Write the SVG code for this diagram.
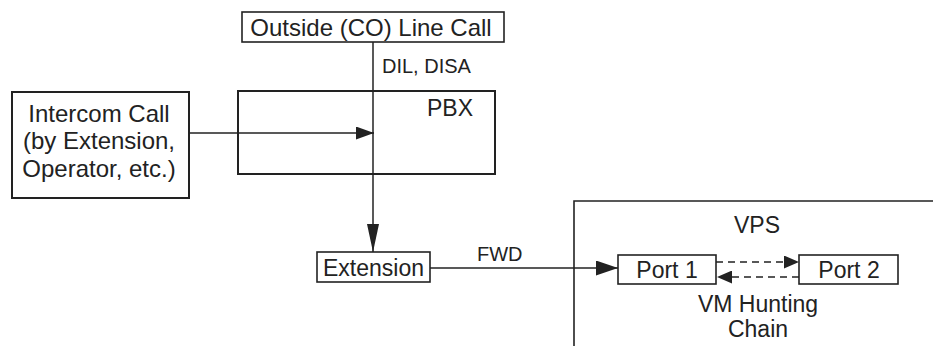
<svg xmlns="http://www.w3.org/2000/svg" width="933" height="346" viewBox="0 0 933 346">
<style>
.box{fill:none;stroke:#222;stroke-width:1.6}
.thick{stroke-width:2}
.t{font-family:"Liberation Sans",Arial,sans-serif;font-size:23px;fill:#222}
.l{font-size:24px}
.s{font-size:20px}
.m{text-anchor:middle}
.c{fill:none;stroke:#222;stroke-width:1.5}
.d{stroke-dasharray:7 5}
</style>
<defs>
<marker id="aL" markerUnits="userSpaceOnUse" markerWidth="28" markerHeight="12" refX="28" refY="6" orient="auto"><path d="M0,0 L28,6 L0,12 z" fill="#222"/></marker>
<marker id="aM" markerUnits="userSpaceOnUse" markerWidth="22" markerHeight="15" refX="22" refY="7.5" orient="auto"><path d="M0,0 L22,7.5 L0,15 z" fill="#222"/></marker>
<marker id="aS" markerUnits="userSpaceOnUse" markerWidth="18" markerHeight="13" refX="18" refY="6.5" orient="auto"><path d="M0,0 L18,6.5 L0,13 z" fill="#222"/></marker>
<marker id="aD" markerUnits="userSpaceOnUse" markerWidth="15" markerHeight="13" refX="15" refY="6.5" orient="auto"><path d="M0,0 L15,6.5 L0,13 z" fill="#222"/></marker>
</defs>
<g id="outside">
<rect class="box" x="242" y="12" width="262" height="30"/>
<text class="t l m" x="371" y="36">Outside (CO) Line Call</text>
</g>
<g id="pbx">
<rect class="box thick" x="238" y="91" width="257" height="83"/>
<text class="t" x="427" y="116">PBX</text>
</g>
<g id="intercom">
<rect class="box thick" x="12" y="92" width="177" height="106"/>
<text class="t l m" x="99" y="122">Intercom Call</text>
<text class="t l m" x="99" y="149">(by Extension,</text>
<text class="t l m" x="99" y="177">Operator, etc.)</text>
</g>
<g id="extension">
<rect class="box" x="317" y="252" width="113" height="30"/>
<text class="t m" x="373.5" y="276">Extension</text>
</g>
<g id="vps">
<path class="box" d="M574,347 V201 H934"/>
<text class="t m" x="757" y="233">VPS</text>
<text class="t m" x="758" y="312">VM Hunting</text>
<text class="t m" x="758" y="337">Chain</text>
</g>
<g id="port1">
<rect class="box" x="618" y="255" width="98" height="29"/>
<text class="t m" x="667" y="278">Port 1</text>
</g>
<g id="port2">
<rect class="box" x="799" y="255" width="99" height="29"/>
<text class="t m" x="849" y="278">Port 2</text>
</g>
<g id="connectors">
<path class="c" d="M373,42 V252" marker-end="url(#aL)"/>
<text class="t s" x="382" y="73">DIL, DISA</text>
<path class="c" d="M189,133 H374" marker-end="url(#aS)"/>
<path class="c" d="M430,268 H618" marker-end="url(#aM)"/>
<text class="t s" x="477" y="261">FWD</text>
<path class="c d" d="M716,262 H799" marker-end="url(#aD)"/>
<path class="c d" d="M799,277 H717" marker-end="url(#aD)"/>
</g>
</svg>
